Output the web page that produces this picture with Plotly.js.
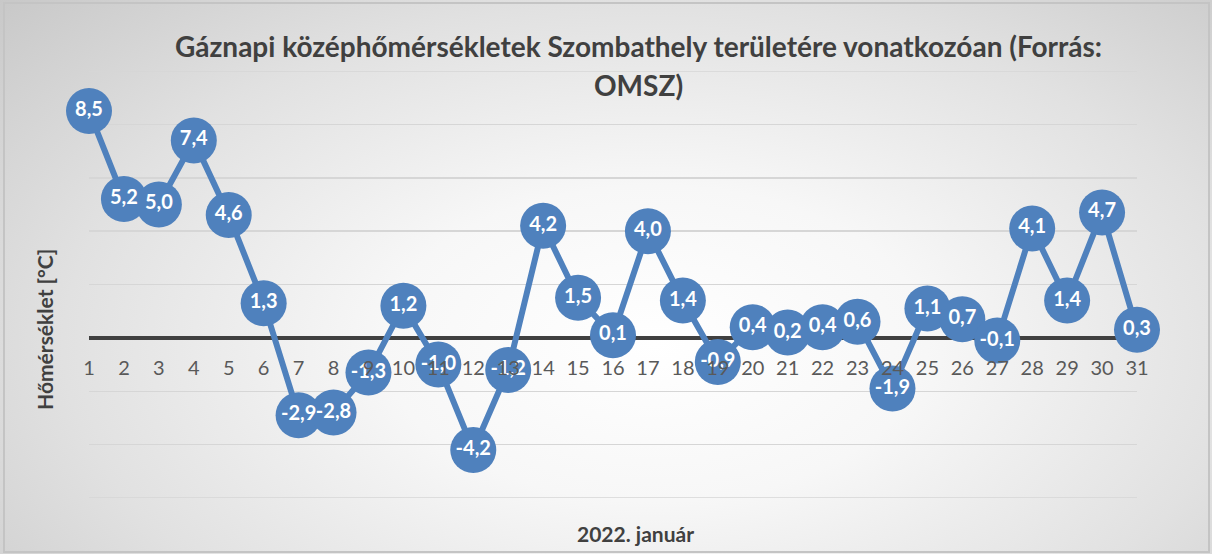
<!DOCTYPE html>
<html>
<head>
<meta charset="utf-8">
<script src="https://cdn.plot.ly/plotly-3.0.1.min.js"></script>
<style>
  html, body { margin: 0; padding: 0; }
  #wrap { position: relative; width: 1212px; height: 554px;
    background: radial-gradient(ellipse 75% 95% at 54% 62%, #ffffff 0%, #f7f7f7 30%, #e1e1e1 65%, #c6c6c6 100%); }
  #chart { position: absolute; left: 0; top: 0; width: 1212px; height: 554px; }
  #frame { position: absolute; left: 3px; top: 2px; width: 1203px; height: 547px;
    border: 2px solid #c4c4c4; pointer-events: none; }
</style>
</head>
<body>
<div id="wrap"><div id="chart"></div><div id="frame"></div></div>
<script>
const days = [1,2,3,4,5,6,7,8,9,10,11,12,13,14,15,16,17,18,19,20,21,22,23,24,25,26,27,28,29,30,31];
const temps = [8.5,5.2,5.0,7.4,4.6,1.3,-2.9,-2.8,-1.3,1.2,-1.0,-4.2,-1.2,4.2,1.5,0.1,4.0,1.4,-0.9,0.4,0.2,0.4,0.6,-1.9,1.1,0.7,-0.1,4.1,1.4,4.7,0.3];
const gridVals = [-6,-4,-2,0,2,4,6,8,10];
const titleLine1 = 'Gáznapi középhőmérsékletek Szombathely területére vonatkozóan (Forrás:';
const titleLine2 = 'OMSZ)';
const xTitle = '2022. január';
const yTitle = 'Hőmérséklet [°C]';

const labels = temps.map(v => v.toFixed(1).replace('.', ','));

const trace = {
  x: days, y: temps, text: labels,
  type: 'scatter', mode: 'lines+markers+text',
  line: { color: '#4f81bd', width: 6 },
  marker: { color: '#4f81bd', size: 46, line: { width: 0 } },
  textposition: 'middle center',
  textfont: { family: 'Lato, sans-serif', size: 20, color: '#ffffff', weight: 'bold' },
  cliponaxis: false,
  hoverinfo: 'x+y'
};

const titleFont = { family: 'Lato, sans-serif', size: 28, color: '#404040', weight: 'bold' };
const axisTitleFont = { family: 'Lato, sans-serif', size: 21, color: '#404040', weight: 'bold' };

// edge gridlines (top and bottom of the value range) drawn as shapes
const yMin = gridVals[0], yMax = gridVals[gridVals.length - 1];
const edgeGrid = [yMin, yMax].map(v => ({
  type: 'line', xref: 'paper', yref: 'y', x0: 0, x1: 1, y0: v, y1: v,
  line: { color: '#d6d6d6', width: 1.5 }, layer: 'below'
}));

const layout = {
  width: 1212, height: 554,
  paper_bgcolor: 'rgba(0,0,0,0)', plot_bgcolor: 'rgba(0,0,0,0)',
  separators: ',.',
  margin: { l: 89, r: 75, t: 71, b: 56 },
  showlegend: false,
  xaxis: {
    range: [1, 31], tickmode: 'array', tickvals: days, ticktext: days.map(String),
    showgrid: false, zeroline: false, showline: false, ticks: '',
    anchor: 'free', position: 0.375, ticklabelstandoff: 16,
    tickfont: { family: 'Lato, sans-serif', size: 20, color: '#595959' }
  },
  yaxis: {
    range: [yMin, yMax], tickmode: 'array', tickvals: gridVals,
    showticklabels: false, ticks: '',
    showgrid: true, gridcolor: '#d6d6d6', gridwidth: 1.5,
    zeroline: true, zerolinecolor: '#404040', zerolinewidth: 3.5, showline: false
  },
  shapes: edgeGrid,
  annotations: [
    { text: titleLine1, xref: 'paper', yref: 'paper', x: 0.524, y: 1.059, xanchor: 'center', yanchor: 'middle',
      showarrow: false, font: titleFont },
    { text: titleLine2, xref: 'paper', yref: 'paper', x: 0.524, y: 0.968, xanchor: 'center', yanchor: 'middle',
      showarrow: false, font: titleFont },
    { text: xTitle, xref: 'paper', yref: 'paper', x: 0.521, y: -0.082, xanchor: 'center', yanchor: 'middle',
      showarrow: false, font: axisTitleFont },
    { text: yTitle, xref: 'paper', yref: 'paper', x: -0.042, y: 0.396, xanchor: 'center', yanchor: 'middle',
      textangle: -90, showarrow: false, font: axisTitleFont }
  ]
};

Plotly.newPlot('chart', [trace], layout, { displayModeBar: false, staticPlot: true });
</script>
</body>
</html>
